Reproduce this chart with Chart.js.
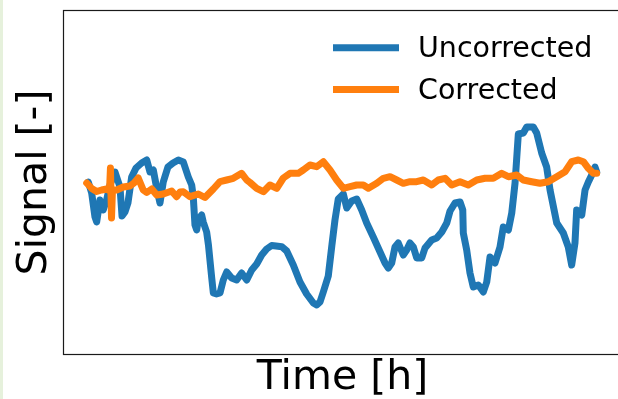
<!DOCTYPE html>
<html>
<head>
<meta charset="utf-8">
<script src="https://cdn.jsdelivr.net/npm/chart.js@4/dist/chart.umd.min.js"></script>
<style>
  html, body { margin: 0; padding: 0; background: #ffffff; overflow: hidden; }
  #wrap { position: relative; width: 640px; height: 399px; }
  #strip { position: absolute; left: 0; top: 0; width: 3px; height: 399px; background: #e6f1dc; }
  canvas { display: block; }
</style>
</head>
<body>
<div id="wrap">
  <canvas id="chart" width="640" height="399"></canvas>
  <div id="strip"></div>
</div>
<script>
// Series labels and colours
const seriesNames = ['Uncorrected', 'Corrected'];
const seriesColors = ['#1f77b4', '#ff7f0e'];

// Uncorrected signal: time [h] and value [-]
const uncorrectedTime = [
  0.03, 0.35, 0.66, 0.82, 1.13, 1.44, 1.76, 2.07, 2.55, 3.02, 3.21, 3.49, 3.77, 4.12, 4.53,
  5.06, 5.54, 5.85, 6.16, 6.48, 6.79, 7.10, 7.54, 8.02, 8.52, 8.99, 9.46, 9.78, 9.93, 10.09,
  10.25, 10.40, 10.72, 10.87, 11.19, 11.36, 11.50, 11.67, 11.82, 12.12, 12.45, 12.76, 13.08,
  13.55, 14.02, 14.49, 14.97, 15.44, 15.91, 16.38, 16.85, 17.32, 17.73, 18.27, 18.74, 19.36,
  19.99, 20.62, 21.25, 21.57, 21.88, 22.19, 22.66, 22.98, 23.29, 23.60, 24.08, 24.40, 24.87,
  25.34, 25.81, 26.28, 26.90, 27.54, 28.01, 28.32, 28.64, 28.95, 29.26, 29.73, 30.05, 30.36,
  30.68, 31.00, 31.47, 31.78, 32.41, 32.88, 33.36, 33.83, 34.14, 34.61, 35.08, 35.34, 35.39,
  35.71, 36.02, 36.33, 36.81, 37.28, 37.60, 37.91, 38.38, 38.85, 39.16, 39.64, 39.96, 40.27,
  40.58, 41.05, 41.37, 41.99, 42.31, 42.78, 43.25, 43.57, 44.20, 44.82, 45.29, 45.61, 45.92,
  46.08, 46.56, 46.87, 47.18, 47.50, 47.81, 47.97
];
const uncorrectedSignal = [
  0.00, -0.11, -0.35, -0.40, -0.18, -0.28, -0.18, -0.03, 0.10, -0.05, -0.34, -0.30, -0.21, 0.05, 0.14,
  0.19, 0.22, 0.10, 0.12, -0.06, -0.21, 0.00, 0.15, 0.19, 0.22, 0.20, 0.05, -0.03, -0.15, -0.43,
  -0.48, -0.38, -0.33, -0.40, -0.50, -0.63, -0.78, -0.96, -1.11, -1.12, -1.11, -0.98, -0.90,
  -0.96, -0.98, -0.91, -0.98, -0.88, -0.82, -0.73, -0.67, -0.635, -0.64, -0.647, -0.69, -0.83,
  -1.00, -1.12, -1.21, -1.23, -1.20, -1.10, -0.94, -0.65, -0.38, -0.17, -0.12, -0.26, -0.19,
  -0.17, -0.28, -0.41, -0.55, -0.70, -0.81, -0.86, -0.81, -0.65, -0.61, -0.73, -0.68, -0.61,
  -0.65, -0.76, -0.76, -0.66, -0.58, -0.56, -0.50, -0.41, -0.29, -0.21, -0.20, -0.28, -0.51,
  -0.68, -0.91, -1.05, -1.03, -1.10, -1.00, -0.75, -0.81, -0.65, -0.45, -0.48, -0.31, -0.01,
  0.48, 0.49, 0.55, 0.55, 0.49, 0.29, 0.15, -0.08, -0.41, -0.51, -0.65, -0.83, -0.61,
  -0.28, -0.33, -0.08, 0.00, 0.07, 0.15, 0.10
];

// Corrected signal: time [h] and value [-]
const correctedTime = [
  -0.12, 0.35, 0.82, 1.29, 1.76, 2.03, 2.12, 2.22, 2.31, 2.71, 3.33, 3.96, 4.34, 4.74, 5.21,
  5.54, 6.01, 6.48, 7.10, 7.89, 8.36, 8.68, 8.99, 9.62, 10.40, 11.03, 11.82, 12.45, 13.08,
  13.70, 14.49, 14.97, 15.28, 15.91, 16.54, 17.16, 17.80, 18.42, 19.05, 19.83, 20.30, 20.93,
  21.56, 22.19, 22.82, 23.45, 24.08, 24.71, 25.34, 25.96, 26.44, 27.23, 27.85, 28.48, 29.11,
  29.73, 30.36, 30.99, 31.62, 32.41, 33.03, 33.67, 34.30, 35.08, 35.86, 36.66, 37.44, 38.22,
  39.01, 39.64, 40.43, 41.05, 41.84, 42.62, 43.40, 44.20, 44.98, 45.61, 46.24, 46.71, 47.18,
  47.65, 47.97
];
const correctedSignal = [
  -0.01, -0.065, -0.095, -0.08, -0.07, -0.09, 0.14, -0.36, -0.08, -0.08, -0.05, -0.04, -0.01, 0.04, -0.08,
  -0.105, -0.07, -0.13, -0.12, -0.09, -0.147, -0.10, -0.097, -0.147, -0.12, -0.155, -0.07, 0.003, 0.02,
  0.037, 0.087, 0.02, -0.005, -0.063, -0.097, -0.03, -0.063, 0.04, 0.087, 0.087, 0.12, 0.17,
  0.153, 0.203, 0.12, 0.02, -0.063, -0.047, -0.03, -0.03, -0.063, -0.013, 0.037, 0.053, 0.02,
  -0.013, 0.003, 0.003, 0.02, -0.03, 0.02, 0.037, -0.03, 0.003, -0.03, 0.02, 0.037, 0.037,
  0.087, 0.053, 0.07, 0.02, 0.003, -0.013, 0.003, 0.053, 0.103, 0.203, 0.22, 0.203, 0.137,
  0.087, 0.087
];

// Axis ranges
const timeRange = [-2.26, 50.26];
const signalRange = [-1.72, 1.71];

const FONT = 'DejaVu Sans';

function toPoints(xs, ys) {
  return xs.map((x, i) => ({ x: x, y: ys[i] }));
}

// Full box around the plot area
const framePlugin = {
  id: 'frame',
  afterDraw(chart) {
    const { ctx, chartArea: a } = chart;
    ctx.save();
    ctx.strokeStyle = '#1a1a1a';
    ctx.lineWidth = 1.2;
    ctx.strokeRect(Math.round(a.left) - 0.5, Math.round(a.top) - 0.5,
                   Math.round(a.right - a.left) + 1, Math.round(a.bottom - a.top) + 1);
    ctx.restore();
  }
};

// Legend drawn inside the plot area, upper right
const insideLegend = {
  id: 'insideLegend',
  afterDraw(chart) {
    const { ctx, chartArea: a } = chart;
    ctx.save();
    ctx.font = '28.5px "' + FONT + '"';
    ctx.textAlign = 'left';
    ctx.textBaseline = 'alphabetic';
    seriesNames.forEach((name, i) => {
      const y = a.top + 36.7 + i * 41.8;
      ctx.strokeStyle = seriesColors[i];
      ctx.lineWidth = 7;
      ctx.lineCap = 'butt';
      ctx.beginPath();
      ctx.moveTo(a.left + 269, y);
      ctx.lineTo(a.left + 335, y);
      ctx.stroke();
      ctx.fillStyle = '#000000';
      ctx.fillText(name, a.left + 354, y + 9);
    });
    ctx.restore();
  }
};

new Chart(document.getElementById('chart'), {
  type: 'line',
  data: {
    datasets: [
      {
        label: seriesNames[0],
        data: toPoints(uncorrectedTime, uncorrectedSignal),
        borderColor: seriesColors[0],
        borderWidth: 7,
        borderJoinStyle: 'round',
        borderCapStyle: 'round',
        pointRadius: 0,
        tension: 0,
        fill: false,
        order: 1
      },
      {
        label: seriesNames[1],
        data: toPoints(correctedTime, correctedSignal),
        borderColor: seriesColors[1],
        borderWidth: 7,
        borderJoinStyle: 'round',
        borderCapStyle: 'round',
        pointRadius: 0,
        tension: 0,
        fill: false,
        order: 0
      }
    ]
  },
  options: {
    responsive: false,
    animation: false,
    devicePixelRatio: 1,
    layout: { padding: { left: 3, top: 11, right: 19, bottom: 0 } },
    plugins: {
      legend: { display: false },
      tooltip: { enabled: false }
    },
    scales: {
      x: {
        type: 'linear',
        min: timeRange[0],
        max: timeRange[1],
        ticks: { display: false },
        grid: { display: false, drawTicks: false, tickLength: 0 },
        border: { display: false },
        title: {
          display: true,
          text: 'Time [h]',
          color: '#000000',
          font: { family: FONT, size: 41, lineHeight: 1 },
          padding: { top: 4, bottom: 0 }
        }
      },
      y: {
        type: 'linear',
        min: signalRange[0],
        max: signalRange[1],
        ticks: { display: false },
        grid: { display: false, drawTicks: false, tickLength: 0 },
        border: { display: false },
        title: {
          display: true,
          text: 'Signal [-]',
          color: '#000000',
          font: { family: FONT, size: 41, lineHeight: 1 },
          padding: { top: 12, bottom: 8 }
        }
      }
    }
  },
  plugins: [framePlugin, insideLegend]
});
</script>
</body>
</html>
